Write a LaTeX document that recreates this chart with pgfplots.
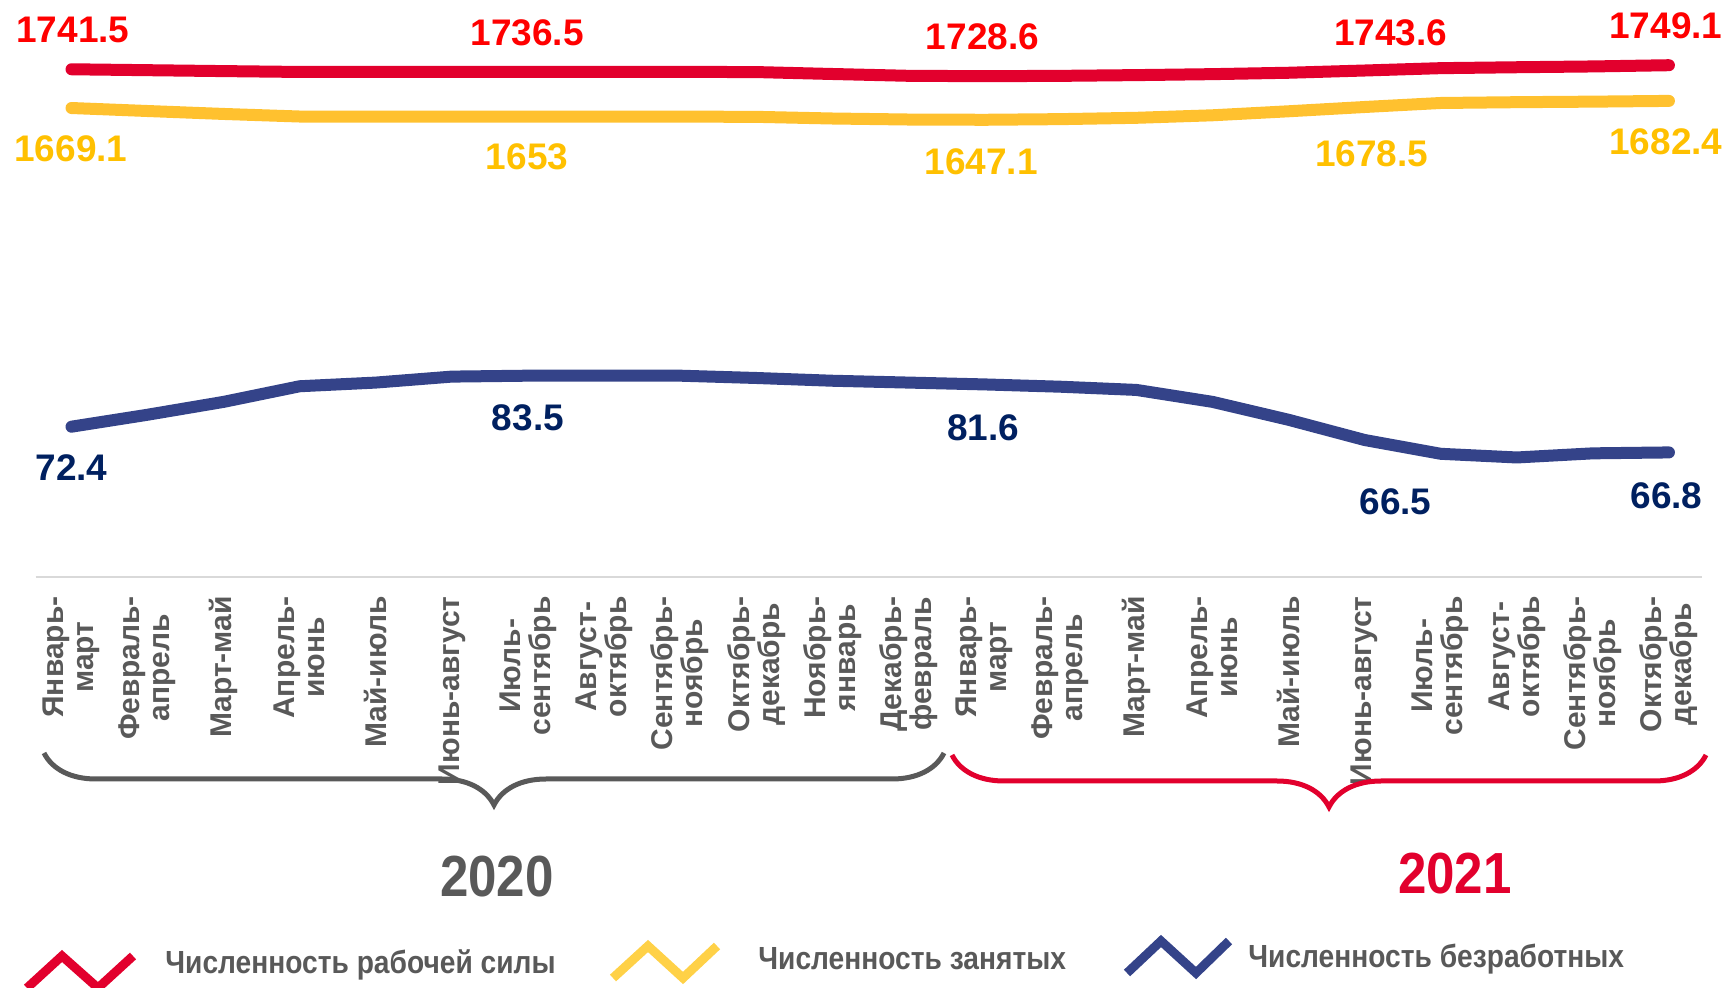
\documentclass[border=0pt]{standalone}
\usepackage{fontspec}
\setmainfont{Liberation Sans}
\newfontfamily\condfont{Liberation Sans}[FakeStretch=0.88]
\usepackage{pgfplots}
\pgfplotsset{compat=1.18}
\usetikzlibrary{decorations.pathreplacing}
\definecolor{redline}{HTML}{E2002D}
\definecolor{redtxt}{HTML}{FF0000}
\definecolor{yelline}{HTML}{FFC12F}
\definecolor{yeltxt}{HTML}{FFC000}
\definecolor{yelleg}{HTML}{FFD147}
\definecolor{blueline}{HTML}{344389}
\definecolor{bluetxt}{HTML}{002060}
\definecolor{txtgray}{HTML}{595959}
\definecolor{axisgray}{HTML}{D9D9D9}
\tikzset{lbl/.style={font=\fontsize{18.5}{18.5}\selectfont\bfseries, inner sep=0pt}}
\begin{document}
\begin{tikzpicture}
\path[use as bounding box] (0,0) rectangle (863pt,-494pt);
\begin{axis}[
  at={(17.875pt,-288.5pt)}, anchor=south west,
  scale only axis, width=832.95pt, height=288.5pt,
  xmin=-0.47, xmax=21.43, ymin=792.5, ymax=1871.0,
  axis x line=bottom, axis y line=none, ytick=\empty,
  x axis line style={-, draw=axisgray, line width=1pt},
  xtick={0,...,21},
  xticklabels={{Январь-\\март},{Февраль-\\апрель},{Март-май},{Апрель-\\июнь},{Май-июль},{Июнь-август},{Июль-\\сентябрь},{Август-\\октябрь},{Сентябрь-\\ноябрь},{Октябрь-\\декабрь},{Ноябрь-\\январь},{Декабрь-\\февраль},{Январь-\\март},{Февраль-\\апрель},{Март-май},{Апрель-\\июнь},{Май-июль},{Июнь-август},{Июль-\\сентябрь},{Август-\\октябрь},{Сентябрь-\\ноябрь},{Октябрь-\\декабрь}},
  xtick style={draw=none}, major tick length=0pt,
  xticklabel style={rotate=90, anchor=east, align=center, inner sep=0pt, font=\fontsize{15}{15}\selectfont\bfseries, text=txtgray},
  xticklabel shift=9.5pt,
  clip=false,
]
\addplot[redline, line width=6pt, line cap=round, line join=round] coordinates {
(0,1741.5) (1,1739.8) (2,1738.1) (3,1736.5) (4,1736.6) (5,1736.6) (6,1736.5) (7,1736.6) (8,1736.6) (9,1736.3) (10,1732.7) (11,1729.3) (12,1728.6) (13,1729.2) (14,1730.6) (15,1732.4) (16,1735.0) (17,1739.2) (18,1743.6) (19,1745.3) (20,1746.8) (21,1749.1)};
\addplot[yelline, line width=6pt, line cap=round, line join=round] coordinates {
(0,1669.1) (1,1663.5) (2,1658.0) (3,1653.2) (4,1653.0) (5,1653.0) (6,1653.0) (7,1653.1) (8,1653.0) (9,1652.6) (10,1649.5) (11,1647.6) (12,1647.1) (13,1648.3) (14,1650.8) (15,1655.5) (16,1663.0) (17,1671.0) (18,1678.5) (19,1680.0) (20,1681.0) (21,1682.4)};
\node[lbl, text=redtxt, xshift=0.75pt, yshift=19.65pt] at (axis cs:0,1741.5) {1741.5};
\node[lbl, text=redtxt, xshift=-0.45pt, yshift=19.35pt] at (axis cs:6,1736.5) {1736.5};
\node[lbl, text=redtxt, xshift=-0.9pt, yshift=19.75pt] at (axis cs:12,1728.6) {1728.6};
\node[lbl, text=redtxt, xshift=-25pt, yshift=17.85pt] at (axis cs:18,1743.6) {1743.6};
\node[lbl, text=redtxt, xshift=-1.5pt, yshift=19.6pt] at (axis cs:21,1749.1) {1749.1};
\node[lbl, text=yeltxt, xshift=-0.25pt, yshift=-20.35pt] at (axis cs:0,1669.1) {1669.1};
\node[lbl, text=yeltxt, xshift=-0.45pt, yshift=-20.3pt] at (axis cs:6,1653) {1653};
\node[lbl, text=yeltxt, xshift=-1.6pt, yshift=-20.8pt] at (axis cs:12,1647.1) {1647.1};
\node[lbl, text=yeltxt, xshift=-34.5pt, yshift=-25.35pt] at (axis cs:18,1678.5) {1678.5};
\node[lbl, text=yeltxt, xshift=-1.5pt, yshift=-20.25pt] at (axis cs:21,1682.4) {1682.4};
\end{axis}
\begin{axis}[
  at={(17.875pt,-288.5pt)}, anchor=south west,
  scale only axis, width=832.95pt, height=288.5pt,
  xmin=-0.47, xmax=21.43, ymin=39.69, ymax=165.26,
  hide axis, clip=false,
]
\addplot[blueline, line width=6pt, line cap=round, line join=round] coordinates {
(0,72.4) (1,75.0) (2,77.8) (3,81.2) (4,82.0) (5,83.3) (6,83.5) (7,83.5) (8,83.5) (9,83.0) (10,82.4) (11,82.0) (12,81.6) (13,81.1) (14,80.4) (15,77.8) (16,73.9) (17,69.5) (18,66.5) (19,65.7) (20,66.6) (21,66.8)};
\node[lbl, text=bluetxt, yshift=-20.65pt] at (axis cs:0,72.4) {72.4};
\node[lbl, text=bluetxt, yshift=-20.9pt] at (axis cs:6,83.5) {83.5};
\node[lbl, text=bluetxt, xshift=-0.65pt, yshift=-21.55pt] at (axis cs:12,81.6) {81.6};
\node[lbl, text=bluetxt, xshift=-22.6pt, yshift=-23.85pt] at (axis cs:18,66.5) {66.5};
\node[lbl, text=bluetxt, xshift=-1.25pt, yshift=-21.55pt] at (axis cs:21,66.8) {66.8};
\end{axis}
\begin{scope}[x=0.5pt, y=-0.5pt]
\draw[txtgray, line width=2.5pt, decorate, decoration={brace, mirror, amplitude=26pt}] (44,753) -- (944,753);
\draw[redline, line width=2.5pt, decorate, decoration={brace, mirror, amplitude=26pt}] (952,755) -- (1706,755);
\node[anchor=base, inner sep=0pt, text=txtgray, font=\condfont\bfseries\fontsize{29}{29}\selectfont] at (497,897) {2020};
\node[anchor=base, inner sep=0pt, text=redline, font=\condfont\bfseries\fontsize{29}{29}\selectfont] at (1455,894) {2021};
\draw[redline, line width=4.5pt] (27,988) -- (62,956) -- (98,988) -- (133,956);
\draw[yelleg, line width=4.5pt] (613,978) -- (648,946) -- (683,978) -- (717,946);
\draw[blueline, line width=4.5pt] (1127,973) -- (1161,941) -- (1196,973) -- (1229,941);
\node[anchor=base west, inner sep=0pt, text=txtgray, font=\condfont\bfseries\fontsize{16}{16}\selectfont] at (165,973) {Численность рабочей силы};
\node[anchor=base west, inner sep=0pt, text=txtgray, font=\condfont\bfseries\fontsize{16}{16}\selectfont] at (758,970) {Численность занятых};
\node[anchor=base west, inner sep=0pt, text=txtgray, font=\condfont\bfseries\fontsize{16}{16}\selectfont] at (1248,968) {Численность безработных};
\end{scope}
\end{tikzpicture}
\end{document}
